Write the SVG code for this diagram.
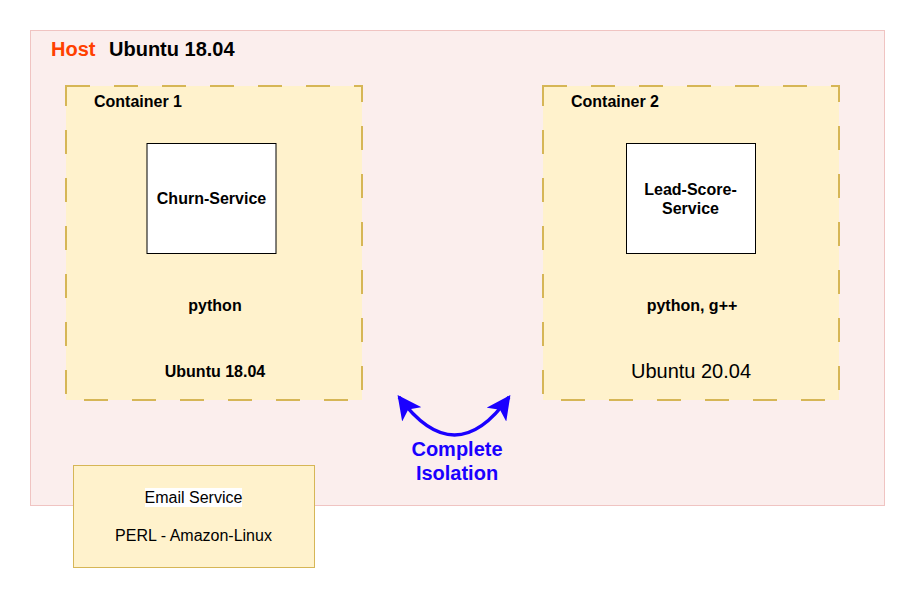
<svg xmlns="http://www.w3.org/2000/svg" width="915" height="598" viewBox="0 0 915 598">
<defs>
<style>
text{font-family:"Liberation Sans",Arial,sans-serif;fill:#000}
.b{font-weight:bold}
.container{fill:#fff2cc;stroke:#d6b656;stroke-width:2;stroke-dasharray:24 24}
.svc{fill:#fff;stroke:#000;stroke-width:1}
.blue{fill:#1a00ff}
</style>
<marker id="ah2" viewBox="0 0 20 20" refX="18" refY="10" markerWidth="24" markerHeight="24" orient="auto-start-reverse" markerUnits="userSpaceOnUse">
<path d="M0,0 L20,10 L0,20 L5,10 Z" fill="#1a00ff"/>
</marker>
</defs>
<rect width="915" height="598" fill="#fff"/>
<g id="host">
<rect x="30.5" y="30.5" width="854" height="475" fill="#fbeeed" stroke="#f0c4c2" stroke-width="1"/>
<text x="51" y="56" class="b" font-size="20" style="fill:#ff4000">Host</text>
<text x="109" y="56" class="b" font-size="20">Ubuntu 18.04</text>
</g>
<g id="container1">
<rect class="container" x="66" y="86" width="296" height="314"/>
<text x="94" y="107" class="b" font-size="16">Container 1</text>
<text x="215" y="377" class="b" font-size="16" text-anchor="middle">Ubuntu 18.04</text>
<text x="215" y="311" class="b" font-size="16" text-anchor="middle">python</text>
</g>
<g id="churn">
<rect class="svc" x="147" y="143.5" width="129" height="110"/>
<text x="211.5" y="204" class="b" font-size="16" text-anchor="middle">Churn-Service</text>
</g>
<g id="container2">
<rect class="container" x="543" y="86" width="296" height="314"/>
<text x="571" y="107" class="b" font-size="16">Container 2</text>
<text x="692" y="311" class="b" font-size="16" text-anchor="middle">python, g++</text>
<text x="691" y="378" font-size="20" text-anchor="middle">Ubuntu 20.04</text>
</g>
<g id="leadscore">
<rect class="svc" x="626.5" y="143.5" width="129" height="110"/>
<text x="690.5" y="195" class="b" font-size="16" text-anchor="middle">Lead-Score-</text>
<text x="690.5" y="214" class="b" font-size="16" text-anchor="middle">Service</text>
</g>
<g id="email">
<rect x="73.5" y="465.5" width="241" height="102" fill="#fff2cc" stroke="#d6b656" stroke-width="1"/>
<rect x="145" y="488" width="97" height="19" fill="#fff"/>
<text x="193.5" y="503" font-size="16" text-anchor="middle">Email Service</text>
<text x="193.5" y="541" font-size="16" text-anchor="middle">PERL - Amazon-Linux</text>
</g>
<g id="connectors">
<path d="M399,397 Q455,473 509,397" fill="none" stroke="#1a00ff" stroke-width="3.5" marker-start="url(#ah2)" marker-end="url(#ah2)"/>
</g>
<g id="isolation">
<text x="457" y="456" class="b blue" font-size="20" text-anchor="middle">Complete</text>
<text x="457" y="480" class="b blue" font-size="20" text-anchor="middle">Isolation</text>
</g>
</svg>
